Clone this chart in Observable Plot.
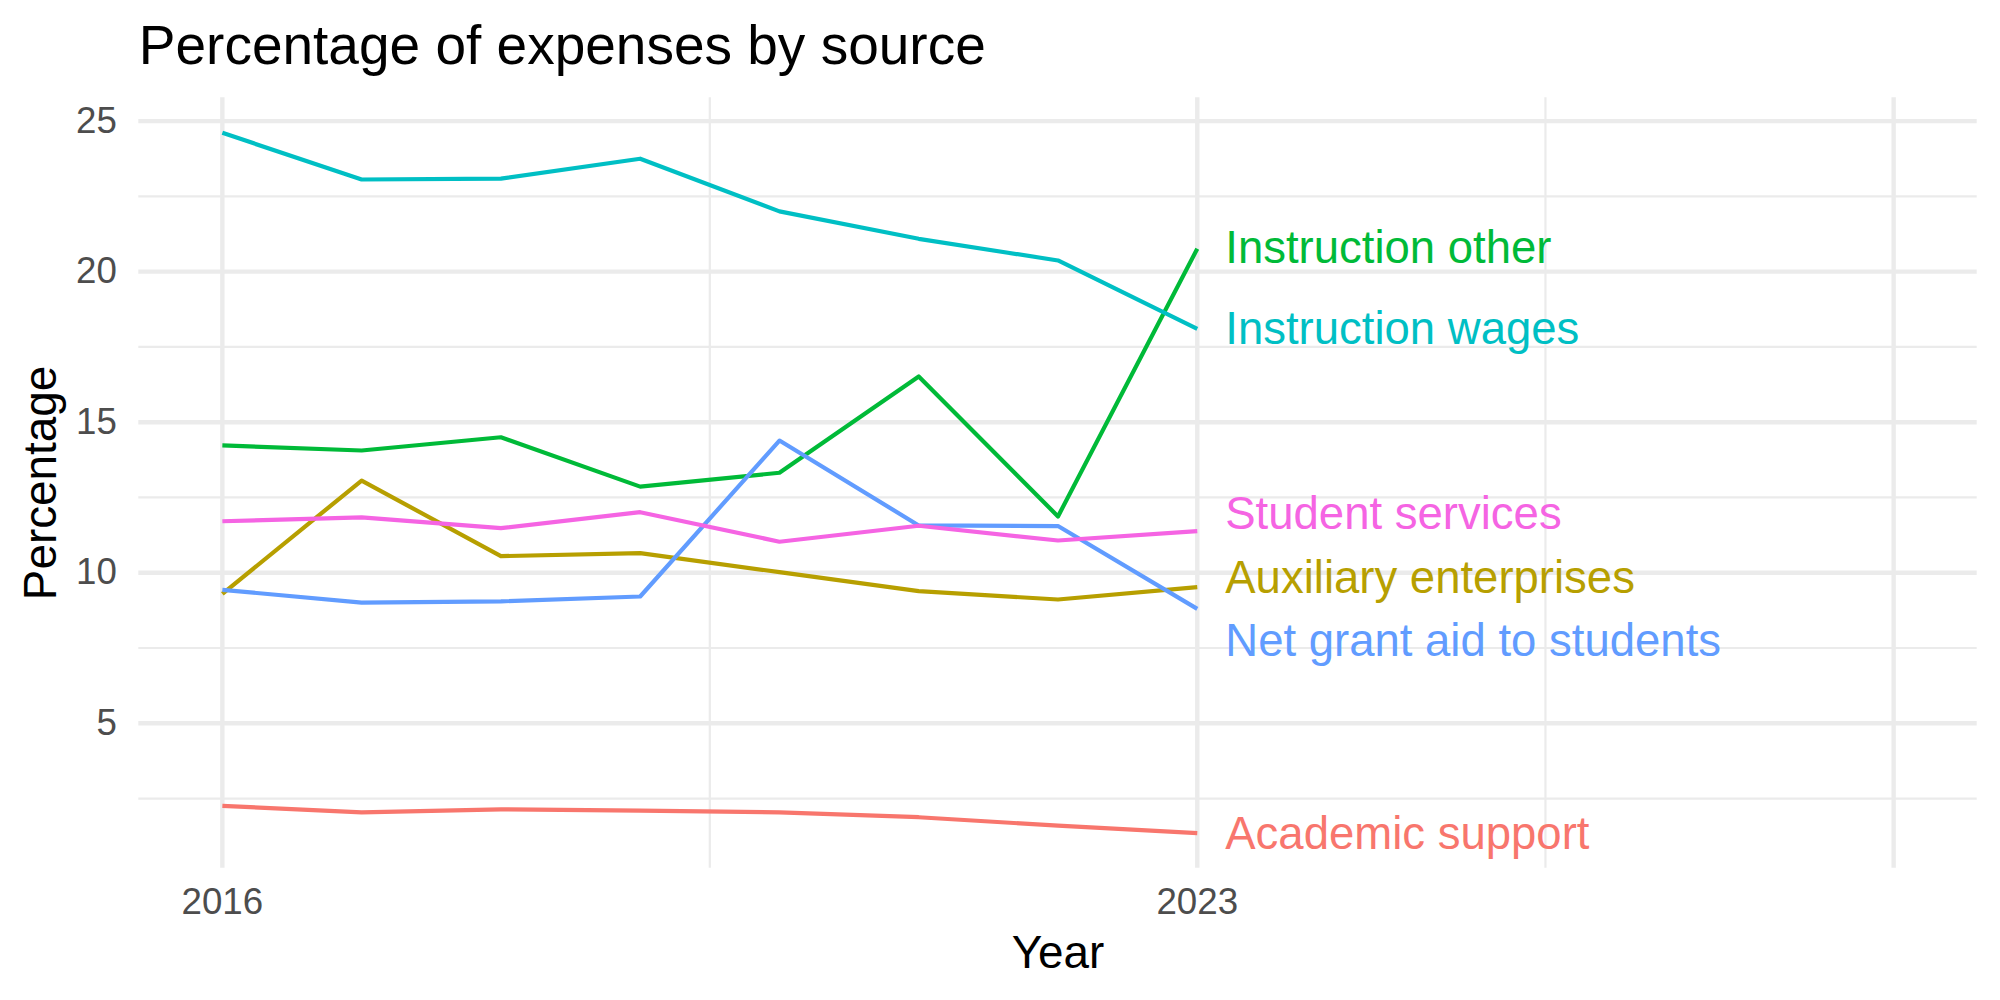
<!DOCTYPE html>
<html>
<head>
<meta charset="utf-8">
<script src="https://cdn.jsdelivr.net/npm/d3@7"></script>
<script src="https://cdn.jsdelivr.net/npm/@observablehq/plot@0.6"></script>
<style>
  html, body { margin: 0; padding: 0; background: #ffffff; }
  #chart svg { display: block; }
</style>
</head>
<body>
<div id="chart"></div>
<script>
// ---- Data ----
const years = [2016, 2017, 2018, 2019, 2020, 2021, 2022, 2023];
const categories = [
  "Academic support",
  "Auxiliary enterprises",
  "Instruction other",
  "Instruction wages",
  "Net grant aid to students",
  "Student services"
];
const academicSupport      = [2.26, 2.04, 2.14, 2.10, 2.04, 1.88, 1.60, 1.35];
const auxiliaryEnterprises = [9.30, 13.06, 10.55, 10.65, 10.02, 9.39, 9.11, 9.52];
const instructionOther     = [14.23, 14.06, 14.50, 12.86, 13.32, 16.52, 11.87, 20.76];
const instructionWages     = [24.61, 23.06, 23.09, 23.75, 22.00, 21.09, 20.37, 18.10];
const netGrantAid          = [9.43, 9.01, 9.05, 9.21, 14.39, 11.57, 11.55, 8.80];
const studentServices      = [11.71, 11.84, 11.48, 12.01, 11.03, 11.56, 11.07, 11.38];
// label heights (repelled) at the end of each line
const labelY = [1.30, 9.81, 20.77, 18.08, 7.71, 11.93];
const colors = ["#F8766D", "#B79F00", "#00BA38", "#00BFC4", "#619CFF", "#F564E3"];
const xTickLabels = [2016, 2023];
const xMajor = [2016, 2023, 2028];
const xMinor = [2019.5, 2025.5];
const yMajor = [5, 10, 15, 20, 25];
const yMinor = [2.5, 7.5, 12.5, 17.5, 22.5];
const xLimits = [2016, 2028];
const titleText = "Percentage of expenses by source";

const series = [academicSupport, auxiliaryEnterprises, instructionOther, instructionWages, netGrantAid, studentServices];
const rows = categories.flatMap((c, i) => years.map((yr, j) => ({category: c, year: yr, value: series[i][j]})));
const labels = categories.map((c, i) => ({category: c, year: years[years.length - 1], y: labelY[i]}));

const allVals = series.flat();
const lo = d3.min(allVals), hi = d3.max(allVals);
const yPad = 0.05 * (hi - lo);
const xPad = 0.05 * (xLimits[1] - xLimits[0]);

const FONT = "'Liberation Sans', Arial, Helvetica, sans-serif";
const GRID = "#EBEBEB";

const chart = Plot.plot({
  width: 2000,
  height: 1000,
  marginTop: 97.3,
  marginBottom: 132.3,
  marginLeft: 138.3,
  marginRight: 23.3,
  style: {fontFamily: FONT, background: "#ffffff", overflow: "visible"},
  x: {domain: [xLimits[0] - xPad, xLimits[1] + xPad]},
  y: {domain: [lo - yPad, hi + yPad]},
  color: {domain: categories, range: colors},
  marks: [
    Plot.ruleY(yMinor, {stroke: GRID, strokeWidth: 2.2}),
    Plot.ruleX(xMinor, {stroke: GRID, strokeWidth: 2.2}),
    Plot.ruleY(yMajor, {stroke: GRID, strokeWidth: 4.4}),
    Plot.ruleX(xMajor, {stroke: GRID, strokeWidth: 4.4}),
    Plot.axisX(xTickLabels, {
      tickSize: 0, tickPadding: 20, fontSize: 36.7, fill: "#4D4D4D",
      tickFormat: d => String(d), label: null
    }),
    Plot.axisY(yMajor, {
      tickSize: 0, tickPadding: 22, fontSize: 36.7, fill: "#4D4D4D",
      tickFormat: d => String(d), label: null
    }),
    Plot.line(rows, {x: "year", y: "value", z: "category", stroke: "category", strokeWidth: 4.2, strokeLinejoin: "round", strokeLinecap: "butt"}),
    Plot.text(labels, {
      x: "year", y: "y", text: "category", fill: "category",
      textAnchor: "start", lineAnchor: "middle", dx: 28, fontSize: 45.5
    }),
    Plot.text([titleText], {
      frameAnchor: "top-left", text: d => d, textAnchor: "start", lineAnchor: "bottom",
      dx: 0, dy: -34, fontSize: 55, fill: "#000000"
    }),
    Plot.text(["Year"], {
      frameAnchor: "bottom", text: d => d, textAnchor: "middle", lineAnchor: "bottom",
      dy: 99.3, fontSize: 45.8, fill: "#000000"
    }),
    Plot.text(["Percentage"], {
      frameAnchor: "left", text: d => d, rotate: -90, textAnchor: "middle", lineAnchor: "bottom",
      dx: -83.3, fontSize: 45.8, fill: "#000000"
    })
  ]
});
document.getElementById("chart").appendChild(chart);
</script>
</body>
</html>
